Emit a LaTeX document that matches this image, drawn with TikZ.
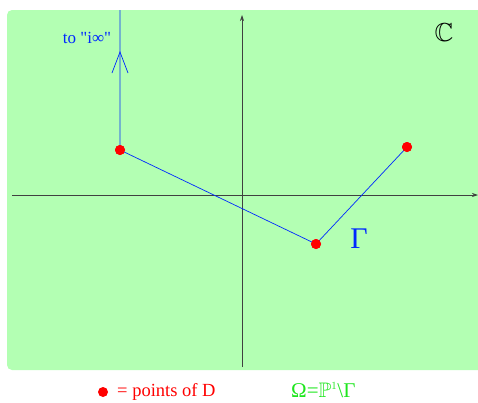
\documentclass[tikz,border=0pt]{standalone}
\usepackage{amssymb}
\usepackage{fontspec}
\setmainfont{Liberation Serif}
\usetikzlibrary{arrows.meta}
\definecolor{bggreen}{RGB}{179,255,179}
\definecolor{gammablue}{RGB}{0,40,255}
\definecolor{omegagreen}{RGB}{30,230,30}
\begin{document}
\begin{tikzpicture}[x=1pt,y=-1pt,
  axis/.style={draw=black!75,line width=0.7pt,-{Stealth[length=6pt,width=4pt]}},
  gam/.style={draw=gammablue,line width=0.7pt},
  pt/.style={circle,fill=red,inner sep=0pt,minimum size=10pt},
  lbl/.style={inner sep=0pt,anchor=center}]
\useasboundingbox (0,0) rectangle (478,402);
\fill[bggreen,rounded corners=5pt] (7,10) rectangle (490,370);
% axes
\coordinate (xl) at (12,195);
\coordinate (xr) at (478,195);
\coordinate (yb) at (242,367);
\coordinate (yt) at (242,15);
\draw[axis] (xl) -- (xr);
\draw[axis] (yb) -- (yt);
% curve Gamma
\coordinate (top) at (120,10);
\node[pt] (p1) at (120,150) {};
\node[pt] (p2) at (316,244) {};
\node[pt] (p3) at (407,147) {};
\draw[gam] (top) -- (p1.center) -- (p2.center) -- (p3.center);
\coordinate (aw1) at (112,73);
\coordinate (atip) at (120,52);
\coordinate (aw2) at (128,73);
\draw[gam] (aw1) -- (atip) -- (aw2);
\node[pt] at (p1) {};
\node[pt] at (p2) {};
\node[pt] at (p3) {};
% labels
\node[lbl,text=gammablue,font=\fontsize{17}{20}\selectfont] (tolab) at (87,38) {to \textquotedbl i∞\textquotedbl};
\node[lbl,font=\fontsize{26}{28}\selectfont] (clab) at (444,33) {$\mathbb{C}$};
\node[lbl,text=gammablue,font=\fontsize{30}{32}\selectfont] (glab) at (359,239) {Γ};
\node[pt,minimum size=10pt] (legdot) at (103,392) {};
\node[lbl,text=red,font=\fontsize{18.5}{20}\selectfont,anchor=west] (legtxt) at (117,392) {= points of D};
\node[lbl,text=omegagreen,font=\fontsize{21}{24}\selectfont,anchor=west] (omega) at (291,390) {Ω=$\mathbb{P}^{\scriptscriptstyle 1}$\textbackslash Γ};
\end{tikzpicture}
\end{document}
